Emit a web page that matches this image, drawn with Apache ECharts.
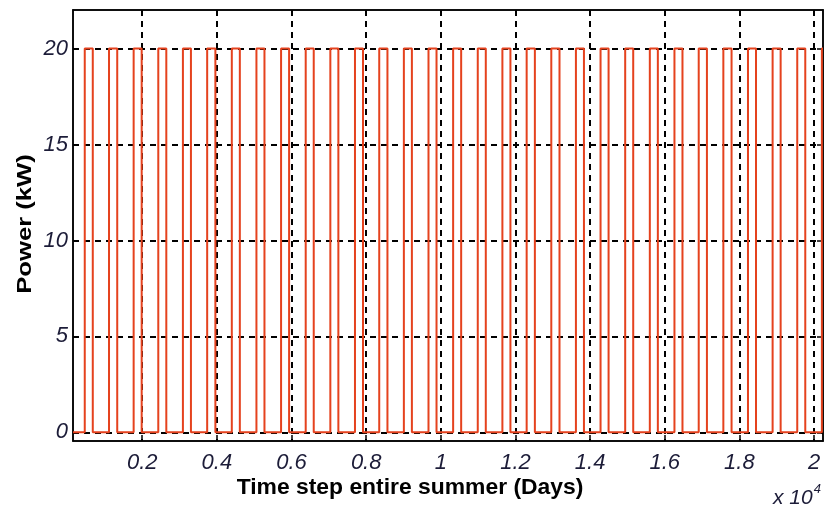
<!DOCTYPE html>
<html>
<head>
<meta charset="utf-8">
<script src="https://cdn.jsdelivr.net/npm/echarts@6/dist/echarts.min.js"></script>
<style>
html,body{margin:0;padding:0;background:#fff;}
#chart{width:825px;height:511px;}
</style>
</head>
<body>
<div id="chart"></div>
<script>
// Pulse start / end times (time steps)
const pulseStart = [460,1110,1770,2430,3090,3740,4400,5060,5720,6380,7040,7700,8350,9010,9670,10330,10990,11650,12300,12960,13620,14280,14940,15600,16260,16910,17570,18230,18890,19550,20210];
const pulseEnd   = [675,1330,1985,2645,3305,3960,4615,5275,5935,6595,7255,7915,8570,9225,9885,10545,11205,11865,12520,13180,13835,14495,15155,15815,16475,17130,17790,18445,19105,19765,20240];
const lowPower = 0;
const highPower = 20;
const xStart = 145;
const xEnd = 20240;
const xTicks = [2000,4000,6000,8000,10000,12000,14000,16000,18000,20000];
const yTicks = [0,5,10,15,20];

const data = [[xStart, lowPower]];
for (let i = 0; i < pulseStart.length; i++) {
  data.push([pulseStart[i], lowPower], [pulseStart[i], highPower], [pulseEnd[i], highPower]);
  if (pulseEnd[i] < xEnd) data.push([pulseEnd[i], lowPower]);
}

const chart = echarts.init(document.getElementById('chart'), null, {renderer: 'canvas'});
const labelColor = '#1c1c38';
const gridLine = {show: true, lineStyle: {color: '#000', type: [6, 5], width: 2}};
chart.setOption({
  animation: false,
  backgroundColor: '#fff',
  grid: {left: 73, top: 10, right: 2, bottom: 70, show: true, borderColor: '#000', borderWidth: 1.5, backgroundColor: 'transparent'},
  xAxis: [{
    type: 'value', min: xStart, max: xEnd,
    axisLine: {show: true, onZero: false, lineStyle: {color: '#000', width: 1.5}},
    axisTick: {show: true, inside: true, length: 6, customValues: xTicks, lineStyle: {color: '#000', width: 1.5}},
    axisLabel: {customValues: xTicks, formatter: v => String(+(v / 10000).toFixed(1)), fontFamily: 'Liberation Sans, Arial', fontStyle: 'italic', fontSize: 22, color: labelColor, margin: 11},
    splitLine: gridLine
  }, {
    type: 'value', position: 'top', min: xStart, max: xEnd,
    axisLine: {show: true, onZero: false, lineStyle: {color: '#000', width: 1.5}},
    axisTick: {show: true, inside: true, length: 6, customValues: xTicks, lineStyle: {color: '#000', width: 1.5}},
    axisLabel: {show: false, customValues: xTicks},
    splitLine: {show: false}
  }],
  yAxis: [{
    type: 'value', min: -0.45, max: 22,
    axisLine: {show: true, onZero: false, lineStyle: {color: '#000', width: 1.5}},
    axisTick: {show: true, inside: true, length: 6, customValues: yTicks, lineStyle: {color: '#000', width: 1.5}},
    axisLabel: {customValues: yTicks, fontFamily: 'Liberation Sans, Arial', fontStyle: 'italic', fontSize: 22, color: labelColor, margin: 5},
    splitLine: gridLine
  }, {
    type: 'value', position: 'right', min: -0.45, max: 22,
    axisLine: {show: true, onZero: false, lineStyle: {color: '#000', width: 1.5}},
    axisTick: {show: true, inside: true, length: 6, customValues: yTicks, lineStyle: {color: '#000', width: 1.5}},
    axisLabel: {show: false, customValues: yTicks},
    splitLine: {show: false}
  }],
  series: [{
    type: 'line', data: data, symbol: 'none', clip: true,
    lineStyle: {color: '#e5421e', width: 2},
    z: 1
  }],
  graphic: [
    {type: 'text', x: 25, y: 224, rotation: Math.PI / 2, scaleX: 1.22, style: {text: 'Power (kW)', font: 'bold 21px Liberation Sans, Arial', fill: '#000', align: 'center', verticalAlign: 'middle'}},
    {type: 'text', x: 410, y: 488, scaleX: 1.04, style: {text: 'Time step entire summer (Days)', font: 'bold 22px Liberation Sans, Arial', fill: '#000', align: 'center', verticalAlign: 'middle'}},
    {type: 'text', x: 773, y: 498, style: {text: '{a|x 10}{b|4}', rich: {a: {fontFamily: 'Liberation Sans, Arial', fontStyle: 'italic', fontSize: 21, fill: labelColor}, b: {fontFamily: 'Liberation Sans, Arial', fontStyle: 'italic', fontSize: 13, fill: labelColor, verticalAlign: 'top', padding: [0, 0, 18, 1]}}, verticalAlign: 'middle'}}
  ]
});
</script>
</body>
</html>
